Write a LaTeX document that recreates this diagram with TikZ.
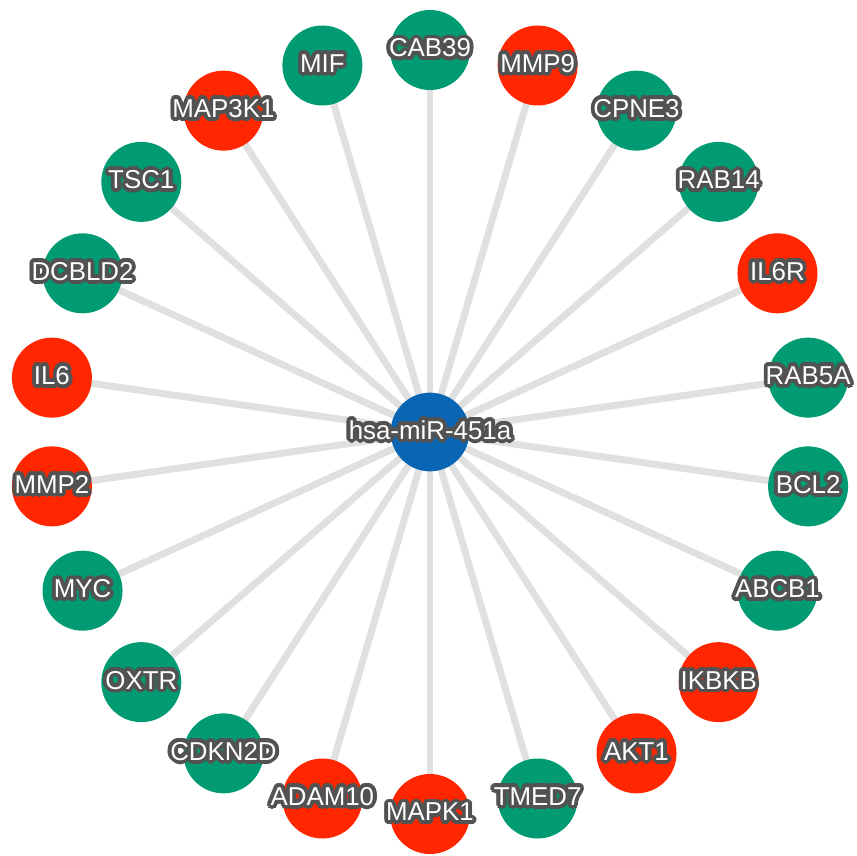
\documentclass[tikz,border=0pt]{standalone}
\usepackage{fontspec}
\setmainfont{Liberation Sans}
\definecolor{gnode}{RGB}{0,155,114}
\definecolor{rnode}{RGB}{255,38,0}
\definecolor{bnode}{RGB}{8,102,180}
\definecolor{edgec}{RGB}{224,224,224}
\definecolor{haloc}{RGB}{82,82,82}
\newcommand\hoff[3]{\rlap{\kern#1\raise#2\hbox{#3}}}
\newcommand\halotxt[1]{{\color{haloc}%
\hoff{2.9pt}{0pt}{#1}\hoff{2.68pt}{1.11pt}{#1}\hoff{2.05pt}{2.05pt}{#1}\hoff{1.11pt}{2.68pt}{#1}%
\hoff{0pt}{2.9pt}{#1}\hoff{-1.11pt}{2.68pt}{#1}\hoff{-2.05pt}{2.05pt}{#1}\hoff{-2.68pt}{1.11pt}{#1}%
\hoff{-2.9pt}{0pt}{#1}\hoff{-2.68pt}{-1.11pt}{#1}\hoff{-2.05pt}{-2.05pt}{#1}\hoff{-1.11pt}{-2.68pt}{#1}%
\hoff{0pt}{-2.9pt}{#1}\hoff{1.11pt}{-2.68pt}{#1}\hoff{2.05pt}{-2.05pt}{#1}\hoff{2.68pt}{-1.11pt}{#1}%
\hoff{1.5pt}{0pt}{#1}\hoff{-1.5pt}{0pt}{#1}\hoff{0pt}{1.5pt}{#1}\hoff{0pt}{-1.5pt}{#1}%
\hoff{1.06pt}{1.06pt}{#1}\hoff{-1.06pt}{1.06pt}{#1}\hoff{1.06pt}{-1.06pt}{#1}\hoff{-1.06pt}{-1.06pt}{#1}}%
\color{white}#1}
\pgfdeclarelayer{bg}
\pgfsetlayers{bg,main}
\tikzset{
  gene/.style={circle, minimum size=60pt, inner sep=0pt, draw=none},
  hubnode/.style={circle, minimum size=59pt, inner sep=0pt, fill=bnode},
  lbl/.style={inner sep=0pt, font=\fontsize{19.4}{21}\selectfont},
  edge/.style={draw=edgec, line width=5.2pt}
}
\begin{document}
\begin{tikzpicture}[x=0.75pt,y=-0.75pt]
\useasboundingbox (0,0) rectangle (857,856);
\node[hubnode] (hub) at (430,432) {};
\foreach \nm/\col [count=\i from 0] in {CAB39/gnode, MMP9/rnode, CPNE3/gnode, RAB14/gnode, IL6R/rnode, RAB5A/gnode, BCL2/gnode, ABCB1/gnode, IKBKB/rnode, AKT1/rnode, TMED7/gnode, MAPK1/rnode, ADAM10/rnode, CDKN2D/gnode, OXTR/gnode, MYC/gnode, MMP2/rnode, IL6/rnode, DCBLD2/gnode, TSC1/gnode, MAP3K1/rnode, MIF/gnode}{
  \pgfmathsetmacro\ang{90-\i*360/22}
  \node[gene, fill=\col] (\nm) at ({430+382*cos(\ang)},{432-382*sin(\ang)}) {};
  \begin{pgfonlayer}{bg}
    \draw[edge] (hub.center) -- (\nm.center);
  \end{pgfonlayer}
}
\foreach \nm in {CAB39, MMP9, CPNE3, RAB14, IL6R, RAB5A, BCL2, ABCB1, IKBKB, AKT1, TMED7, MAPK1, ADAM10, CDKN2D, OXTR, MYC, MMP2, IL6, DCBLD2, TSC1, MAP3K1, MIF}{
  \node[lbl] (\nm-l) at ([yshift=1.5pt]\nm.center) {\halotxt{\nm}};
}
\node[lbl] (hub-l) at ([yshift=1.5pt]hub.center) {\halotxt{hsa-miR-451a}};
\end{tikzpicture}
\end{document}
